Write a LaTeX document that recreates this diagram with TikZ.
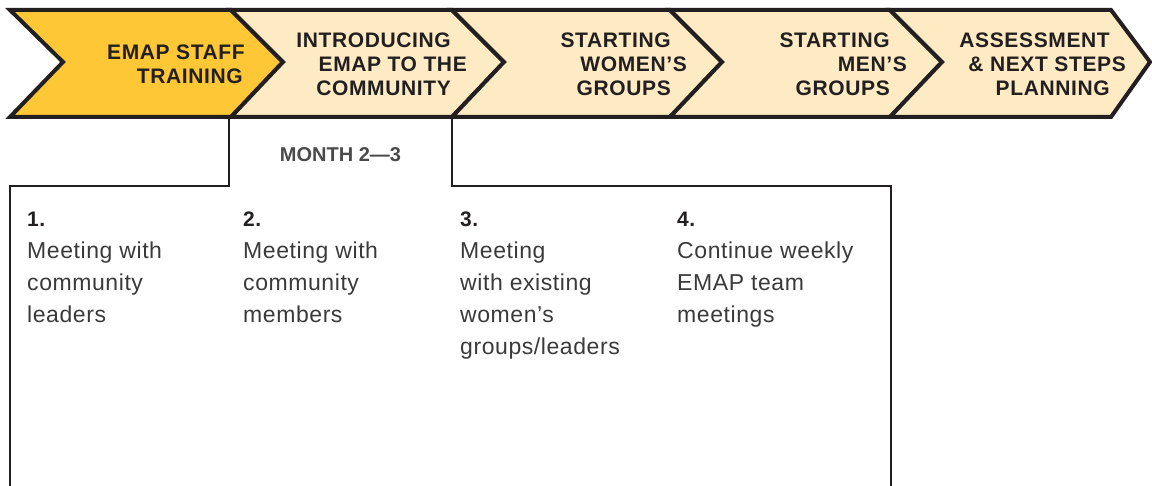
\documentclass[tikz,border=0pt]{standalone}
\usepackage{fontspec}
\newfontfamily\headfont{Liberation Sans}[LetterSpace=3]
\newfontfamily\bodyfont{Liberation Sans}[LetterSpace=2.5]
\newfontfamily\plainfont{Liberation Sans}
\definecolor{ink}{HTML}{231F20}
\definecolor{gold}{HTML}{FDC735}
\definecolor{cream}{HTML}{FEEBC4}
\definecolor{bodygray}{HTML}{3A3A3A}
\definecolor{monthgray}{HTML}{4A4A4A}
\newcommand{\stepnum}{\color{ink}\bodyfont\bfseries\fontsize{21}{32}\selectfont}

\begin{document}
\begin{tikzpicture}[x=1pt,y=-1pt,
  chevron/.style={draw=ink, line width=4pt, line join=miter},
  boxline/.style={draw=ink, line width=2.4pt, line join=miter},
  headline/.style={anchor=base east, inner sep=0pt, text=ink,
    font=\headfont\bfseries\fontsize{21}{24}\selectfont},
  monthlabel/.style={anchor=base, inner sep=0pt, text=monthgray,
    font=\plainfont\bfseries\fontsize{20}{24}\selectfont},
  % multi-line nodes: the base anchor sits on the last line
  steptext/.style={anchor=base west, inner sep=0pt, align=left, text=bodygray,
    font=\bodyfont\fontsize{23}{32}\selectfont}]
\useasboundingbox (0,0) rectangle (1152,486);

% phase chevrons
\path[chevron, fill=gold]  (10,10) -- (231,10) -- (283,62) -- (231,117) -- (10,117) -- (63,62) -- cycle;
\path[chevron, fill=cream] (231,10) -- (452,10) -- (504,62) -- (452,117) -- (231,117) -- (283,62) -- cycle;
\path[chevron, fill=cream] (452,10) -- (670,10) -- (722,62) -- (670,117) -- (452,117) -- (504,62) -- cycle;
\path[chevron, fill=cream] (670,10) -- (890,10) -- (942,62) -- (890,117) -- (670,117) -- (722,62) -- cycle;
\path[chevron, fill=cream] (890,10) -- (1111,10) -- (1150,62) -- (1111,117) -- (890,117) -- (942,62) -- cycle;

% phase titles
\node[headline] (h1a) at (245,60) {EMAP STAFF};
\node[headline] (h1b) at (243,84) {TRAINING};
\node[headline] (h2a) at (451,48) {INTRODUCING};
\node[headline] (h2b) at (467,72) {EMAP TO THE};
\node[headline] (h2c) at (451,96) {COMMUNITY};
\node[headline] (h3a) at (671,48) {STARTING};
\node[headline] (h3b) at (687,72) {WOMEN’S};
\node[headline] (h3c) at (671,96) {GROUPS};
\node[headline] (h4a) at (890,48) {STARTING};
\node[headline] (h4b) at (907,72) {MEN’S};
\node[headline] (h4c) at (890,96) {GROUPS};
\node[headline] (h5a) at (1110,48) {ASSESSMENT};
\node[headline] (h5b) at (1126,72) {\& NEXT STEPS};
\node[headline] (h5c) at (1110,96) {PLANNING};

% detail panel hanging below the second phase
\coordinate (tabL) at (229,117);
\coordinate (tabR) at (452,117);
\coordinate (panelL) at (10,186);
\coordinate (panelR) at (891,186);
\coordinate (footL) at (10,492);
\coordinate (footR) at (891,492);
\path[boxline] (tabL) |- (panelL) -- (footL);
\path[boxline] (tabR) |- (panelR) -- (footR);

\node[monthlabel] (month) at (340.5,162) {MONTH 2—3};

% activities (numbers on the 227 baseline, 32 between lines)
\node[steptext] (s1) at (27,323) {{\stepnum 1.}\\Meeting with\\community\\leaders};
\node[steptext] (s2) at (243,323) {{\stepnum 2.}\\Meeting with\\community\\members};
\node[steptext] (s3) at (460,355) {{\stepnum 3.}\\Meeting\\with existing\\women’s\\groups/leaders};
\node[steptext] (s4) at (677,323) {{\stepnum 4.}\\Continue weekly\\EMAP team\\meetings};
\end{tikzpicture}
\end{document}
